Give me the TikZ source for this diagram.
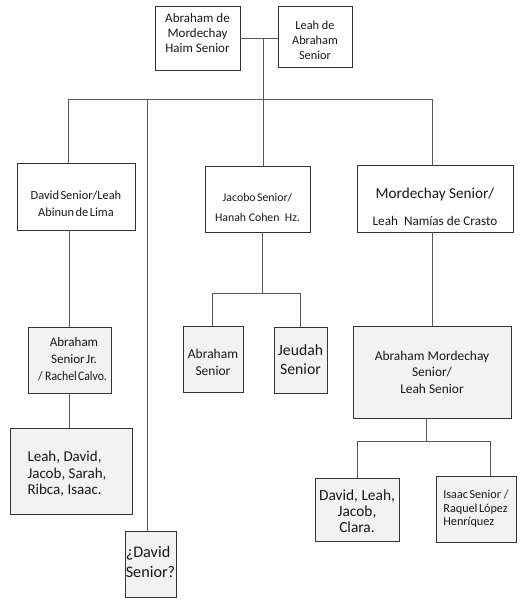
\documentclass[tikz,border=0pt]{standalone}
\usepackage{fontspec}
\usepackage{graphicx}
\setmainfont{Carlito}
\begin{document}
\begin{tikzpicture}[x=1pt,y=-1pt,
  box/.style={draw=black!80,line width=0.9pt,inner sep=0pt},
  gbox/.style={box,fill=black!5},
  txt/.style={inner sep=0pt,align=center,text=black!90},
  conn/.style={draw=black!65,line width=0.8pt}]
\useasboundingbox (0,0) rectangle (520,600);
% boxes
\node[box,minimum width=85pt,minimum height=64pt] (A) at (197.5,38) {};
\node[box,minimum width=74pt,minimum height=61pt] (B) at (315,36.5) {};
\node[box,minimum width=118pt,minimum height=67pt] (D) at (76,196.5) {};
\node[box,minimum width=105pt,minimum height=66pt] (J) at (257.5,199) {};
\node[box,minimum width=156pt,minimum height=67pt] (M) at (435,198.5) {};
\node[gbox,minimum width=83pt,minimum height=66pt] (AJ) at (69.5,360) {};
\node[gbox,minimum width=122pt,minimum height=86pt] (L) at (71,471) {};
\node[gbox,minimum width=51pt,minimum height=66pt] (DQ) at (150.5,564) {};
\node[gbox,minimum width=60pt,minimum height=66pt] (AS) at (213,359) {};
\node[gbox,minimum width=53pt,minimum height=66pt] (JS) at (300.5,360) {};
\node[gbox,minimum width=158pt,minimum height=92pt] (AM) at (432,372) {};
\node[gbox,minimum width=84pt,minimum height=63pt] (DL) at (357,509.5) {};
\node[gbox,minimum width=80pt,minimum height=66pt] (IS) at (476,509) {};
% texts
\node[txt,font=\fontsize{13}{15}\selectfont] (At) at ([yshift=5pt]A.center) {Abraham de\\Mordechay\\Haim Senior};
\node[txt,font=\fontsize{12.3}{15}\selectfont] (Bt) at ([yshift=-3.5pt]B.center) {Leah de\\Abraham\\Senior};
\node[txt,font=\fontsize{12.4}{17}\selectfont] (Dt) at ([yshift=-7pt]D.center) {David\kern1.5pt Senior/Leah\\Abinun\kern1.5pt de\kern1.5pt Lima};
\node[txt,font=\fontsize{11.8}{20}\selectfont] (Jt) at ([yshift=-8pt]J.center) {Jacobo\kern1.5pt Senior/\\Hanah Cohen\ \ Hz.};
\node[txt,font=\fontsize{13.2}{27}\selectfont] (Mt) at ([yshift=-8pt]M.center) {{\fontsize{15.2}{27}\selectfont Mordechay Senior/}\\Leah\ \ Namías de Crasto};
\node[txt,font=\fontsize{13}{17}\selectfont] (AJt) at ([xshift=3pt,yshift=1pt]AJ.center) {\ Abraham\\\ Senior\kern1.5pt Jr.\\\scalebox{0.9}[1]{/ Rachel\kern1.5pt Calvo.}};
\node[txt,align=left,font=\fontsize{15}{16.5}\selectfont] (Lt) at ([xshift=-4pt,yshift=-3pt]L.center) {Leah, David,\\Jacob, Sarah,\\Ribca, Isaac.};
\node[txt,align=left,font=\fontsize{16.2}{20}\selectfont] (DQt) at ([yshift=2pt]DQ.center) {¿David\\Senior?};
\node[txt,font=\fontsize{13.5}{17}\selectfont] (ASt) at ([yshift=-3.5pt]AS.center) {Abraham\\Senior};
\node[txt,font=\fontsize{15.7}{19}\selectfont] (JSt) at (JS.center) {Jeudah\\Senior};
\node[txt,font=\fontsize{13.4}{16.5}\selectfont] (AMt) at (AM.center) {Abraham Mordechay\\Senior/\\Leah Senior};
\node[txt,font=\fontsize{15.4}{16.2}\selectfont] (DLt) at ([yshift=-1.5pt]DL.center) {David, Leah,\\Jacob,\\Clara.};
\node[txt,align=left,font=\fontsize{12.2}{13.5}\selectfont] (ISt) at (IS.center) {Isaac\kern1.5pt Senior /\\Raquel\kern1.5pt López\\Henríquez};
% connector points
\coordinate (m1) at (263,38);
\coordinate (bl) at (68,99);
\coordinate (bq) at (147,99);
\coordinate (bc) at (263,99);
\coordinate (br) at (432,99);
\draw[conn] (A.east) -- (A.east -| B.west);
\draw[conn] (m1) -- (bc);
\draw[conn] (bl) -- (br);
\draw[conn] (bl) -- (bl |- D.north);
\draw[conn] (bq) -- (bq |- DQ.north);
\draw[conn] (bc) -- (bc |- J.north);
\draw[conn] (br) -- (br |- M.north);
% David branch
\coordinate (d1) at (69,0);
\draw[conn] (d1 |- D.south) -- (d1 |- AJ.north);
\draw[conn] (d1 |- AJ.south) -- (d1 |- L.north);
% Jacobo branch
\coordinate (jt) at (262,293);
\coordinate (jl) at (212,293);
\coordinate (jr) at (300,293);
\draw[conn] (jt |- J.south) -- (jt);
\draw[conn] (jl) -- (jr);
\draw[conn] (jl) -- (jl |- AS.north);
\draw[conn] (jr) -- (jr |- JS.north);
% Mordechay branch
\draw[conn] (br |- M.south) -- (br |- AM.north);
\coordinate (mt) at (426,441);
\coordinate (ml) at (357,441);
\coordinate (mr) at (490,441);
\draw[conn] (mt |- AM.south) -- (mt);
\draw[conn] (ml) -- (mr);
\draw[conn] (ml) -- (ml |- DL.north);
\draw[conn] (mr) -- (mr |- IS.north);
\end{tikzpicture}
\end{document}
